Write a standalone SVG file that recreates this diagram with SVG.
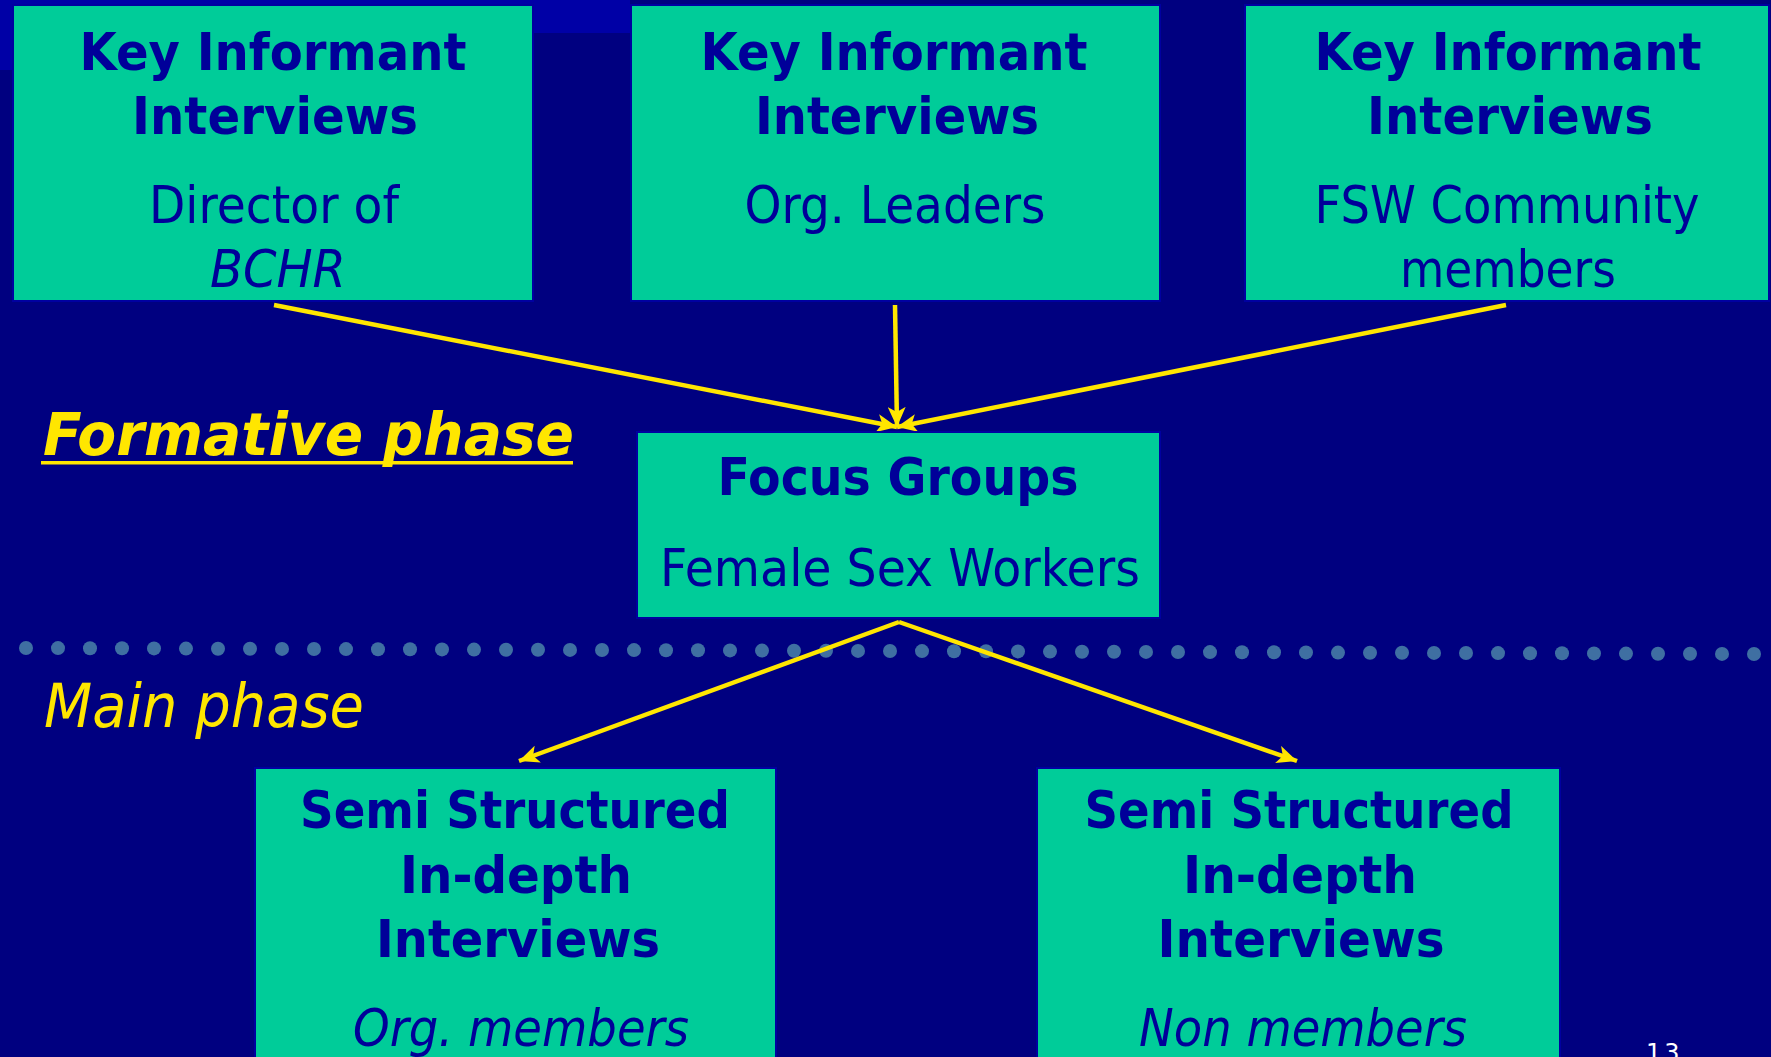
<svg xmlns="http://www.w3.org/2000/svg" width="1771" height="1057" viewBox="0 0 1771 1057">
<style>
.box{fill:#00CC99;stroke:#0000A0;stroke-width:2}
.t{font-family:"DejaVu Sans","Liberation Sans",sans-serif;fill:#000099;text-anchor:middle}
.b{font-weight:bold;font-size:52px}
.r{font-size:52px}
.i{font-style:italic}
.conn{stroke:#FFE600;stroke-width:4.5;fill:none}
.dot{fill:#3F6FA2}
.ph{font-family:"DejaVu Sans","Liberation Sans",sans-serif;fill:#FFE600;font-style:italic}
</style>
<defs>
<marker id="ah" markerUnits="userSpaceOnUse" markerWidth="22" markerHeight="18" refX="20" refY="9" orient="auto">
<path d="M0,0 L20,9 L0,18 L5,9 Z" fill="#FFE600"/>
</marker>
</defs>
<rect width="1771" height="1057" fill="#000080"/>
<path d="M0,0 H630 V33 H28 V70 H0 Z" fill="#0000A6"/>

<g id="divider">
<circle class="dot" cx="26" cy="648" r="7"/><circle class="dot" cx="58" cy="648.1" r="7"/><circle class="dot" cx="90" cy="648.2" r="7"/><circle class="dot" cx="122" cy="648.3" r="7"/><circle class="dot" cx="154" cy="648.4" r="7"/><circle class="dot" cx="186" cy="648.6" r="7"/><circle class="dot" cx="218" cy="648.7" r="7"/><circle class="dot" cx="250" cy="648.8" r="7"/><circle class="dot" cx="282" cy="648.9" r="7"/><circle class="dot" cx="314" cy="649" r="7"/><circle class="dot" cx="346" cy="649.1" r="7"/><circle class="dot" cx="378" cy="649.2" r="7"/><circle class="dot" cx="410" cy="649.3" r="7"/><circle class="dot" cx="442" cy="649.4" r="7"/><circle class="dot" cx="474" cy="649.6" r="7"/><circle class="dot" cx="506" cy="649.7" r="7"/><circle class="dot" cx="538" cy="649.8" r="7"/><circle class="dot" cx="570" cy="649.9" r="7"/><circle class="dot" cx="602" cy="650" r="7"/><circle class="dot" cx="634" cy="650.1" r="7"/><circle class="dot" cx="666" cy="650.2" r="7"/><circle class="dot" cx="698" cy="650.3" r="7"/><circle class="dot" cx="730" cy="650.4" r="7"/><circle class="dot" cx="762" cy="650.6" r="7"/><circle class="dot" cx="794" cy="650.7" r="7"/><circle class="dot" cx="826" cy="650.8" r="7"/><circle class="dot" cx="858" cy="650.9" r="7"/><circle class="dot" cx="890" cy="651" r="7"/><circle class="dot" cx="922" cy="651.1" r="7"/><circle class="dot" cx="954" cy="651.2" r="7"/><circle class="dot" cx="986" cy="651.3" r="7"/><circle class="dot" cx="1018" cy="651.4" r="7"/><circle class="dot" cx="1050" cy="651.6" r="7"/><circle class="dot" cx="1082" cy="651.7" r="7"/><circle class="dot" cx="1114" cy="651.8" r="7"/><circle class="dot" cx="1146" cy="651.9" r="7"/><circle class="dot" cx="1178" cy="652" r="7"/><circle class="dot" cx="1210" cy="652.1" r="7"/><circle class="dot" cx="1242" cy="652.2" r="7"/><circle class="dot" cx="1274" cy="652.3" r="7"/><circle class="dot" cx="1306" cy="652.4" r="7"/><circle class="dot" cx="1338" cy="652.6" r="7"/><circle class="dot" cx="1370" cy="652.7" r="7"/><circle class="dot" cx="1402" cy="652.8" r="7"/><circle class="dot" cx="1434" cy="652.9" r="7"/><circle class="dot" cx="1466" cy="653" r="7"/><circle class="dot" cx="1498" cy="653.1" r="7"/><circle class="dot" cx="1530" cy="653.2" r="7"/><circle class="dot" cx="1562" cy="653.3" r="7"/><circle class="dot" cx="1594" cy="653.4" r="7"/><circle class="dot" cx="1626" cy="653.6" r="7"/><circle class="dot" cx="1658" cy="653.7" r="7"/><circle class="dot" cx="1690" cy="653.8" r="7"/><circle class="dot" cx="1722" cy="653.9" r="7"/><circle class="dot" cx="1754" cy="654" r="7"/>
</g>

<g id="connectors">
<line class="conn" x1="274" y1="305" x2="897" y2="427" marker-end="url(#ah)"/>
<line class="conn" x1="895" y1="305" x2="897" y2="427" marker-end="url(#ah)"/>
<line class="conn" x1="1506" y1="305" x2="897" y2="427" marker-end="url(#ah)"/>
<line class="conn" x1="899" y1="622" x2="519" y2="761" marker-end="url(#ah)"/>
<line class="conn" x1="899" y1="622" x2="1297" y2="761" marker-end="url(#ah)"/>
</g>

<g id="ki-director">
<rect class="box" x="13" y="5" width="520" height="296"/>
<text class="t b" x="273" y="70" textLength="387" lengthAdjust="spacingAndGlyphs">Key Informant</text>
<text class="t b" x="275" y="134" textLength="286" lengthAdjust="spacingAndGlyphs">Interviews</text>
<text class="t r" x="274" y="223" textLength="250" lengthAdjust="spacingAndGlyphs">Director of</text>
<text class="t r i" x="278" y="287" textLength="136" lengthAdjust="spacingAndGlyphs">BCHR</text>
</g>

<g id="ki-leaders">
<rect class="box" x="631" y="5" width="529" height="296"/>
<text class="t b" x="894" y="70" textLength="387" lengthAdjust="spacingAndGlyphs">Key Informant</text>
<text class="t b" x="897" y="134" textLength="284" lengthAdjust="spacingAndGlyphs">Interviews</text>
<text class="t r" x="895" y="223" textLength="301" lengthAdjust="spacingAndGlyphs">Org. Leaders</text>
</g>

<g id="ki-community">
<rect class="box" x="1245" y="5" width="524" height="296"/>
<text class="t b" x="1508" y="70" textLength="387" lengthAdjust="spacingAndGlyphs">Key Informant</text>
<text class="t b" x="1510" y="134" textLength="286" lengthAdjust="spacingAndGlyphs">Interviews</text>
<text class="t r" x="1507" y="223" textLength="385" lengthAdjust="spacingAndGlyphs">FSW Community</text>
<text class="t r" x="1508" y="287" textLength="216" lengthAdjust="spacingAndGlyphs">members</text>
</g>

<g id="focus-groups">
<rect class="box" x="637" y="432" width="523" height="186"/>
<text class="t b" x="898" y="495" font-size="50" textLength="361" lengthAdjust="spacingAndGlyphs">Focus Groups</text>
<text class="t r" x="900" y="586" textLength="480" lengthAdjust="spacingAndGlyphs">Female Sex Workers</text>
</g>

<g id="ssi-members">
<rect class="box" x="255" y="768" width="521" height="300"/>
<text class="t b" x="515" y="828" font-size="50" textLength="430" lengthAdjust="spacingAndGlyphs">Semi Structured</text>
<text class="t b" x="516" y="893" font-size="50" textLength="232" lengthAdjust="spacingAndGlyphs">In-depth</text>
<text class="t b" x="518" y="957" font-size="50" textLength="284" lengthAdjust="spacingAndGlyphs">Interviews</text>
<text class="t r i" x="521" y="1046" font-size="50" textLength="336" lengthAdjust="spacingAndGlyphs">Org. members</text>
</g>

<g id="ssi-nonmembers">
<rect class="box" x="1037" y="768" width="523" height="300"/>
<text class="t b" x="1299" y="828" font-size="50" textLength="429" lengthAdjust="spacingAndGlyphs">Semi Structured</text>
<text class="t b" x="1300" y="893" font-size="50" textLength="234" lengthAdjust="spacingAndGlyphs">In-depth</text>
<text class="t b" x="1301" y="957" font-size="50" textLength="287" lengthAdjust="spacingAndGlyphs">Interviews</text>
<text class="t r i" x="1303" y="1046" font-size="50" textLength="328" lengthAdjust="spacingAndGlyphs">Non members</text>
</g>

<g id="labels">
<text class="ph" x="43" y="455" font-size="59" font-weight="bold" textLength="531" lengthAdjust="spacingAndGlyphs">Formative phase</text>
<rect x="41" y="461" width="532" height="3.5" fill="#FFE600"/>
<text class="ph" x="44" y="727" font-size="60" textLength="320" lengthAdjust="spacingAndGlyphs">Main phase</text>
<text x="1646" y="1061" font-family="DejaVu Sans, sans-serif" font-size="24" fill="#FFFFFF" letter-spacing="3">13</text>
</g>
</svg>
